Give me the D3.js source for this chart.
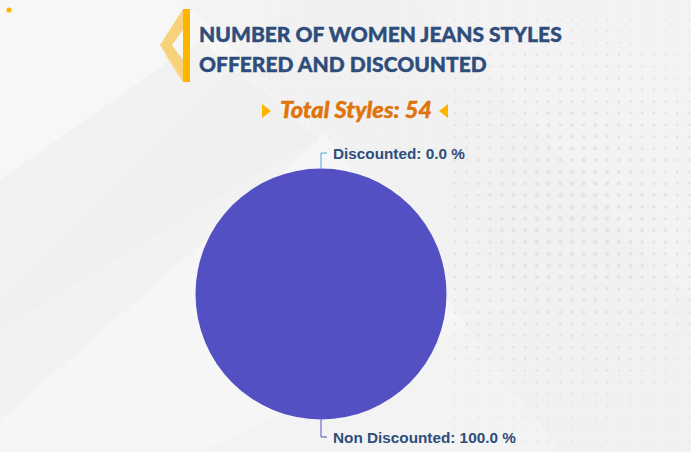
<!DOCTYPE html>
<html><head><meta charset="utf-8">
<script src="https://cdn.jsdelivr.net/npm/d3@7"></script>
<style>html,body{margin:0;padding:0;background:#f3f3f3;overflow:hidden}</style>
</head><body><svg id="c" width="691" height="452"></svg>
<script>
const categories = ["Discounted", "Non Discounted"];
const values = [0, 54];
const percents = [0.0, 100.0];
const totalStyles = 54;
const titleLines = ["NUMBER OF WOMEN JEANS STYLES", "OFFERED AND DISCOUNTED"];
const colors = ["#4aa3e6", "#5350c4"];

const W = 691, H = 452;
const svg = d3.select("#c");

// background
svg.append("rect").attr("width", W).attr("height", H).attr("fill", "#f3f3f3");
svg.append("path").attr("d","M0,0 L300,0 L0,300 Z").attr("fill","#f7f7f7");
svg.append("path").attr("d","M0,330 L330,130 L520,300 L200,452 L0,452 Z").attr("fill","#f6f6f6");
svg.append("path").attr("d","M180,0 L420,0 L691,300 L691,452 L560,452 L330,140 Z").attr("fill","#f0f0f0").attr("opacity",0.6);
svg.append("path").attr("d","M0,180 L200,40 L320,140 L0,420 Z").attr("fill","#ededed").attr("opacity",0.5);

// dot grid
const dots = svg.append("g");
for (let x = 455; x < W; x += 11.7) {
  for (let y = 8; y < H; y += 11.7) {
    const dx = (x - 570) / 140, dy = (y - 220) / 160;
    const d = Math.sqrt(dx*dx + dy*dy);
    const r = Math.max(0.9, 2.6 - d * 1.3);
    dots.append("circle").attr("cx", x).attr("cy", y).attr("r", r).attr("fill", "#e4e4e4");
  }
}
for (let x = 270; x < 455; x += 11.7) {
  for (let y = 8; y < 150; y += 11.7) {
    dots.append("circle").attr("cx", x).attr("cy", y).attr("r", 0.9).attr("fill", "#e8e8e8");
  }
}

// small orange dot top-left
svg.append("circle").attr("cx", 9).attr("cy", 10).attr("r", 2.6).attr("fill", "#ffb400");

// chevron + bar
svg.append("path").attr("d","M183,9 L160,45 L183,81 L190,81 L190,70 L172,45 L190,20 Z").attr("fill","#f7d27a");
svg.append("path").attr("d","M165,55 L183,82").attr("stroke","#f5dca0").attr("stroke-width",1).attr("fill","none");
svg.append("rect").attr("x",183).attr("y",9).attr("width",7).attr("height",73).attr("fill","#ffb400");

// title
svg.append("g").selectAll("text").data(titleLines).join("text")
  .attr("x", 199).attr("y", (d,i) => 42 + i*30)
  .attr("font-family", "Lato, 'Open Sans', sans-serif").attr("font-weight", 900)
  .attr("font-size", 21).attr("fill", "#2e4d7b")
  .attr("stroke", "#2e4d7b").attr("stroke-width", 0.4).text(d => d);

// total styles
const tot = svg.append("g");
tot.append("text").attr("x", 280).attr("y", 118)
  .attr("font-family","Lato, 'Open Sans', sans-serif").attr("font-weight",900).attr("font-style","italic")
  .attr("font-size", 22).attr("textLength", 152).attr("lengthAdjust", "spacingAndGlyphs")
  .attr("fill","#e0740a").attr("stroke","#e0740a").attr("stroke-width",0.4)
  .text("Total Styles: " + totalStyles);
tot.append("path").attr("d","M262,104 L271,111 L262,118 Z").attr("fill","#ffb400");
tot.append("path").attr("d","M448,104 L439,111 L448,118 Z").attr("fill","#ffb400");

// pie
const cx = 321, cy = 294, R = 125.5;
const pie = d3.pie().sort(null).value(d => d)(values);
const arc = d3.arc().innerRadius(0).outerRadius(R);
const pg = svg.append("g").attr("transform", `translate(${cx},${cy})`);
pg.selectAll("path").data(pie).join("path").attr("d", arc).attr("fill", (d,i) => colors[i]);

// labels
const y = d3.scaleLinear().domain([-1, 1]).range([cy - R, cy + R]);
const labels = [
  {i:0, y0: y(-1), y1: 153, color: colors[0]},
  {i:1, y0: y(1), y1: 437, color: colors[1]}
];
const lg = svg.append("g");
labels.forEach(l => {
  lg.append("path").attr("d", `M${cx},${l.y0} L${cx},${l.y1} L${cx+6},${l.y1}`)
    .attr("fill","none").attr("stroke", l.color).attr("stroke-width", 1);
  lg.append("text").attr("x", cx + 12).attr("y", l.y1 + 5.5)
    .attr("font-family","Arial, 'Liberation Sans', sans-serif").attr("font-weight","bold")
    .attr("font-size", 15.3).attr("fill","#2e4d7b")
    .text(`${categories[l.i]}: ${percents[l.i].toFixed(1)} %`);
});
</script>
</body></html>
